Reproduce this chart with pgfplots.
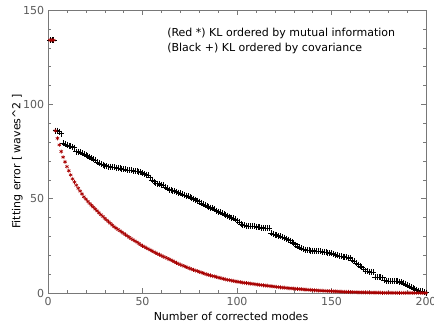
\documentclass[border=0pt]{standalone}
\usepackage{pgfplots}
\pgfplotsset{compat=1.18}
\usepackage{pgfplotstable}
\usepackage{fontspec}
\setmainfont{DejaVu Sans}
\definecolor{dred}{RGB}{168,0,0}
\definecolor{axgray}{RGB}{120,120,120}
\definecolor{labgray}{RGB}{90,90,90}
\pgfplotstableread{
x y
1 134
2 134
3 134
4 86
5 82
6 78.5
7 75
8 72
9 69.5
10 67
11 64.8
12 62.6
13 60.5
14 58.8
15 57.1
16 55.5
17 54
18 52.5
19 51
20 49.8
21 48.6
22 47.5
23 46.5
24 45.5
25 44.5
26 43.5
27 42.5
28 41.5
29 40.6
30 39.6
31 38.7
32 37.8
33 36.9
34 36
35 35.1
36 34.4
37 33.7
38 33
39 32.3
40 31.6
41 30.9
42 30.2
43 29.5
44 28.8
45 28.2
46 27.6
47 27
48 26.3
49 25.6
50 25
51 24.5
52 23.9
53 23.4
54 22.8
55 22.3
56 21.8
57 21.3
58 20.8
59 20.3
60 19.8
61 19.3
62 18.9
63 18.4
64 17.9
65 17.5
66 17
67 16.5
68 16
69 15.5
70 15
71 14.6
72 14.2
73 13.8
74 13.4
75 13
76 12.6
77 12.3
78 11.9
79 11.6
80 11.2
81 10.9
82 10.6
83 10.2
84 9.9
85 9.6
86 9.3
87 9
88 8.8
89 8.5
90 8.2
91 8
92 7.7
93 7.5
94 7.2
95 7
96 6.8
97 6.6
98 6.4
99 6.2
100 6
101 5.85
102 5.7
103 5.55
104 5.4
105 5.3
106 5.15
107 5
108 4.9
109 4.75
110 4.6
111 4.5
112 4.35
113 4.2
114 4.1
115 3.95
116 3.85
117 3.7
118 3.6
119 3.5
120 3.35
121 3.25
122 3.1
123 3
124 2.9
125 2.8
126 2.7
127 2.6
128 2.5
129 2.45
130 2.35
131 2.25
132 2.15
133 2.05
134 2
135 1.9
136 1.8
137 1.75
138 1.65
139 1.6
140 1.55
141 1.45
142 1.4
143 1.3
144 1.25
145 1.2
146 1.15
147 1.1
148 1.05
149 1
150 0.95
151 0.9
152 0.85
153 0.8
154 0.75
155 0.7
156 0.66
157 0.62
158 0.58
159 0.55
160 0.52
161 0.48
162 0.45
163 0.42
164 0.38
165 0.35
166 0.33
167 0.31
168 0.29
169 0.27
170 0.25
171 0.23
172 0.21
173 0.19
174 0.17
175 0.15
176 0.14
177 0.13
178 0.12
179 0.11
180 0.1
181 0.09
182 0.08
183 0.07
184 0.06
185 0.05
186 0.05
187 0.04
188 0.04
189 0.03
190 0.03
191 0.03
192 0.02
193 0.02
194 0.02
195 0.01
196 0.01
197 0.01
198 0.01
199 0
200 0
}\redtab
\pgfplotstableread{
x y
1 134
2 134
3 134
4 86
5 86
6 85.5
7 84.5
8 79.5
9 79
10 78.5
11 78
12 78
13 77.5
14 77
15 75
16 75
17 74.5
18 74
19 73.5
20 73
21 72.5
22 72
23 71.5
24 71
25 70.5
26 69.5
27 69
28 68.5
29 68
30 67.5
31 67.2
32 67
33 67
34 66.8
35 66.7
36 66.5
37 66.3
38 66
39 65.8
40 65.7
41 65.5
42 65.3
43 65.1
44 65
45 64.8
46 64.6
47 64.5
48 64.3
49 64
50 63.6
51 63.2
52 62.8
53 62.3
54 61.2
55 60
56 59
57 58.3
58 58
59 57.7
60 57.3
61 57
62 56.2
63 55.4
64 54.8
65 54.5
66 54.2
67 54
68 53.6
69 53.2
70 52.8
71 52.4
72 52
73 51.6
74 51.2
75 50.8
76 50.4
77 50
78 49.5
79 49
80 48.4
81 47.8
82 47.2
83 46.6
84 46
85 45.7
86 45.3
87 45
88 44.3
89 43.6
90 43.1
91 42.8
92 42.3
93 41.8
94 41.4
95 41
96 40.5
97 40
98 39.6
99 39
100 38.3
101 37.5
102 36.7
103 36
104 35.8
105 35.7
106 35.6
107 35.5
108 35.5
109 35.4
110 35.2
111 35
112 34.8
113 34.6
114 34.5
115 34.4
116 34.3
117 34.2
118 31.8
119 31.4
120 31
121 30.6
122 30.3
123 30
124 29.6
125 29.3
126 28.8
127 28.3
128 27.7
129 27.1
130 26.5
131 25.7
132 24.9
133 24.2
134 23.6
135 23.2
136 23
137 22.8
138 22.7
139 22.5
140 22.4
141 22.3
142 22.2
143 22.1
144 22
145 21.9
146 21.8
147 21.6
148 21.4
149 21.2
150 21
151 20.8
152 20.4
153 20
154 19.7
155 19.4
156 19.3
157 19.2
158 19
159 18.7
160 18.3
161 17.6
162 16.8
163 15.8
164 15
165 14.2
166 13.6
167 12.6
168 11.6
169 11.4
170 11.3
171 11.2
172 11.1
173 8.6
174 8.5
175 8.4
176 8.3
177 8.2
178 6.8
179 6.5
180 6.4
181 6.3
182 6.3
183 6.2
184 6.1
185 6.1
186 6
187 5.8
188 5.4
189 4.8
190 4.2
191 3.6
192 3
193 2.5
194 2
195 1.6
196 1.3
197 1.1
198 0.8
199 0.5
200 0.2
}\blacktab
\begin{document}
\fontsize{11}{13}\selectfont
\begin{tikzpicture}
\begin{axis}[
  scale only axis,
  width=378pt, height=283pt,
  xmin=0, xmax=200, ymin=0, ymax=150,
  xtick={0,50,100,150,200},
  ytick={0,50,100,150},
  minor x tick num=4,
  minor y tick num=4,
  tick align=inside,
  major tick length=5pt,
  minor tick length=3pt,
  axis line style={axgray},
  every tick/.style={axgray},
  tick label style={font=\fontsize{11}{13}\selectfont, text=labgray},
  /pgf/number format/assume math mode=true,
  xlabel={Number of corrected modes},
  ylabel={Fitting error [ waves\^{}2 ]},
  label style={font=\fontsize{11}{13}\selectfont},
  xlabel style={yshift=1pt, xshift=-6pt},
  ylabel style={yshift=-7pt, xshift=-10pt},
  clip=false,
]
\addplot[only marks, mark=+, mark size=3pt, line width=0.5pt, black] table[x=x,y=y] {\blacktab};
\addplot[only marks, mark=asterisk, mark size=2pt, line width=0.6pt, dred] table[x=x,y=y] {\redtab};
\node[anchor=west, inner sep=0pt] at (axis cs:63,137.8) {(Red *) KL ordered by mutual information};
\node[anchor=west, inner sep=0pt] at (axis cs:63,129.8) {(Black +) KL ordered by covariance};
\end{axis}
\pgfresetboundingbox
\path (-48pt,-34pt) rectangle (386pt,293pt);
\end{tikzpicture}
\end{document}
